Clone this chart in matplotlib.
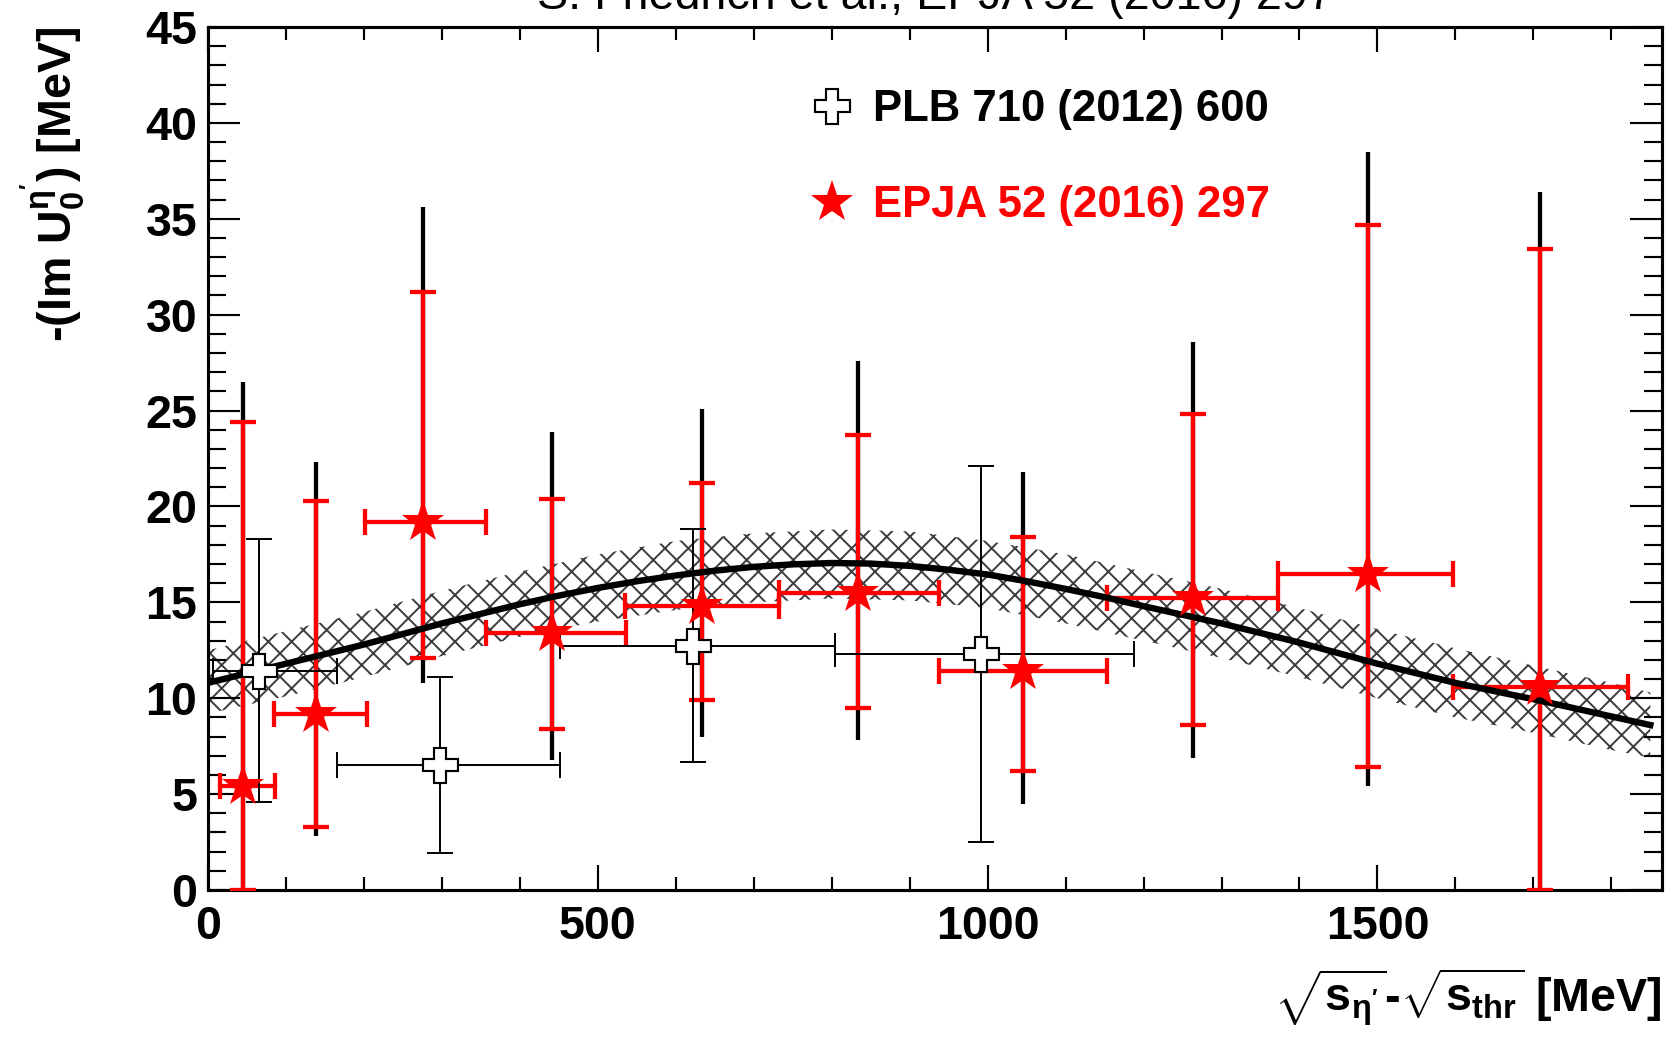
import matplotlib
matplotlib.use("Agg")
import matplotlib.pyplot as plt
from matplotlib.lines import Line2D
from matplotlib.ticker import MultipleLocator
import numpy as np

matplotlib.rcParams['font.family'] = ['Liberation Sans', 'DejaVu Sans']
matplotlib.rcParams['font.weight'] = 'bold'
matplotlib.rcParams['axes.labelweight'] = 'bold'
matplotlib.rcParams['mathtext.fontset'] = 'custom'
matplotlib.rcParams['mathtext.rm'] = 'Liberation Sans'
matplotlib.rcParams['mathtext.bf'] = 'Liberation Sans:bold'
matplotlib.rcParams['mathtext.it'] = 'Liberation Sans:italic'
matplotlib.rcParams['mathtext.default'] = 'bf'
matplotlib.rcParams['hatch.linewidth'] = 1.0

# EPJA 52 (2016) 297 -- red stars
epja_x = [45, 139, 276, 441, 633, 834, 1045, 1263, 1488, 1709]
epja_y = [5.4, 9.2, 19.2, 13.4, 14.8, 15.5, 11.4, 15.2, 16.5, 10.6]
epja_xlo = [15, 85, 202, 356, 535, 732, 938, 1153, 1372, 1597]
epja_xhi = [86, 204, 357, 536, 732, 938, 1153, 1372, 1597, 1822]
epja_stat_lo = [0.0, 3.3, 12.1, 8.4, 9.9, 9.5, 6.2, 8.6, 6.4, 0.0]
epja_stat_hi = [24.4, 20.3, 31.2, 20.4, 21.2, 23.7, 18.4, 24.8, 34.7, 33.4]
epja_tot_lo = [0.0, 2.8, 10.8, 6.8, 8.0, 7.8, 4.5, 6.9, 5.4, 0.0]
epja_tot_hi = [26.5, 22.3, 35.6, 23.9, 25.1, 27.6, 21.8, 28.6, 38.5, 36.4]

# PLB 710 (2012) 600 -- open crosses
plb_x = [65, 297, 622, 992]
plb_y = [11.4, 6.5, 12.7, 12.3]
plb_xlo = [6, 165, 452, 804]
plb_xhi = [165, 451, 804, 1188]
plb_ylo = [4.6, 1.95, 6.7, 2.5]
plb_yhi = [18.3, 11.1, 18.8, 22.1]

# fit curve
fit_x = [0, 50, 100, 150, 200, 250, 300, 350, 400, 450, 500, 550, 600, 650,
         700, 750, 800, 850, 900, 950, 1000, 1050, 1100, 1150, 1200, 1250,
         1300, 1350, 1400, 1450, 1500, 1550, 1600, 1650, 1700, 1750, 1800, 1850]
fit_y = [10.8, 11.3, 11.8, 12.3, 12.8, 13.35, 13.9, 14.4, 14.9, 15.35, 15.75,
         16.1, 16.4, 16.65, 16.85, 16.98, 17.05, 17.02, 16.9, 16.7, 16.45,
         16.1, 15.7, 15.27, 14.8, 14.35, 13.9, 13.4, 12.9, 12.35, 11.8, 11.3,
         10.8, 10.37, 9.95, 9.5, 9.05, 8.6]

# uncertainty band of the fit
band_x = [0, 100, 200, 300, 400, 500, 600, 700, 800, 900, 1000, 1100, 1200,
          1300, 1400, 1500, 1600, 1700, 1800, 1850]
band_lo = [9.2, 10.1, 11.1, 12.2, 13.2, 14.0, 14.6, 15.0, 15.2, 15.1, 14.7,
           13.9, 13.0, 12.1, 11.1, 10.0, 9.0, 8.2, 7.3, 6.9]
band_hi = [12.5, 13.5, 14.5, 15.6, 16.6, 17.5, 18.2, 18.6, 18.8, 18.7, 18.2,
           17.5, 16.6, 15.7, 14.7, 13.6, 12.6, 11.7, 10.8, 10.3]

fig = plt.figure(figsize=(1670 / 140, 1041 / 140), dpi=140)
ax = fig.add_axes([208 / 1670, 1 - 890 / 1041, 1454 / 1670, 863 / 1041])

ax.fill_between(band_x, band_lo, band_hi, facecolor='none', edgecolor='#3c3c3c',
                hatch='xx', linewidth=0, zorder=1)

ex = np.array(epja_x)
ey = np.array(epja_y)
ex_err = [ex - np.array(epja_xlo), np.array(epja_xhi) - ex]
ey_stat = [ey - np.array(epja_stat_lo), np.array(epja_stat_hi) - ey]
ey_tot = [ey - np.array(epja_tot_lo), np.array(epja_tot_hi) - ey]

ax.errorbar(ex, ey, yerr=ey_tot, fmt='none', ecolor='black', elinewidth=2.2,
            capsize=0, zorder=2)
ax.errorbar(ex, ey, xerr=ex_err, yerr=ey_stat, fmt='none', ecolor='red',
            elinewidth=2.2, capsize=6.8, capthick=2.2, zorder=3)

px = np.array(plb_x)
py = np.array(plb_y)
px_err = [px - np.array(plb_xlo), np.array(plb_xhi) - px]
py_err = [py - np.array(plb_ylo), np.array(plb_yhi) - py]
ax.errorbar(px, py, xerr=px_err, yerr=py_err, fmt='none', ecolor='black',
            elinewidth=1.0, capsize=6.8, capthick=1.0, zorder=3)

ax.plot(fit_x, fit_y, color='black', linewidth=3.3, zorder=4)

ax.plot(px, py, linestyle='none', marker='P', markersize=18,
        markerfacecolor='white', markeredgecolor='black', markeredgewidth=1.1, zorder=5)
ax.plot(ex, ey, linestyle='none', marker='*', markersize=23,
        color='red', markeredgewidth=0, zorder=5)

ax.set_xlim(0, 1865)
ax.set_ylim(0, 45)
ax.xaxis.set_major_locator(MultipleLocator(500))
ax.xaxis.set_minor_locator(MultipleLocator(100))
ax.yaxis.set_major_locator(MultipleLocator(5))
ax.yaxis.set_minor_locator(MultipleLocator(1))

ax.tick_params(which='both', direction='in', top=True, right=True, width=1.1,
               labelsize=24)
ax.tick_params(axis='y', which='major', length=16.5, pad=5.5)
ax.tick_params(axis='y', which='minor', length=9.5)
ax.tick_params(axis='x', which='major', length=13, pad=7.5)
ax.tick_params(axis='x', which='minor', length=6.5)
for s in ax.spines.values():
    s.set_linewidth(1.6)

ax.set_ylabel(r"-(Im U$_{0}^{\mathrm{\eta}^{\prime}}$) [MeV]", fontsize=24,
              fontweight='bold', loc='top')
ax.yaxis.set_label_coords(-0.0825, 1.0)
ax.set_xlabel(r"$\sqrt{s_{\mathrm{\eta}^{\prime}}}$-$\sqrt{s_{thr}}$ [MeV]",
              fontsize=24, fontweight='bold', loc='right')
ax.xaxis.set_label_coords(1.0, -0.088)

ax.set_title("S. Friedrich et al., EPJA 52 (2016) 297", fontsize=24,
             fontweight='normal', pad=9.5)

handles = [
    Line2D([], [], linestyle='none', marker='P', markersize=18,
           markerfacecolor='white', markeredgecolor='black', markeredgewidth=1.1),
    Line2D([], [], linestyle='none', marker='*', markersize=23, color='red',
           markeredgewidth=0),
]
leg = ax.legend(handles, ["PLB 710 (2012) 600", "EPJA 52 (2016) 297"],
                loc='upper left', bbox_to_anchor=(0.414, 0.928), frameon=False,
                fontsize=22.5, handlelength=1.0, handletextpad=0.45,
                labelspacing=1.25, borderpad=0, borderaxespad=0)
leg.get_texts()[1].set_color('red')

fig.savefig("out.png", dpi=140)
